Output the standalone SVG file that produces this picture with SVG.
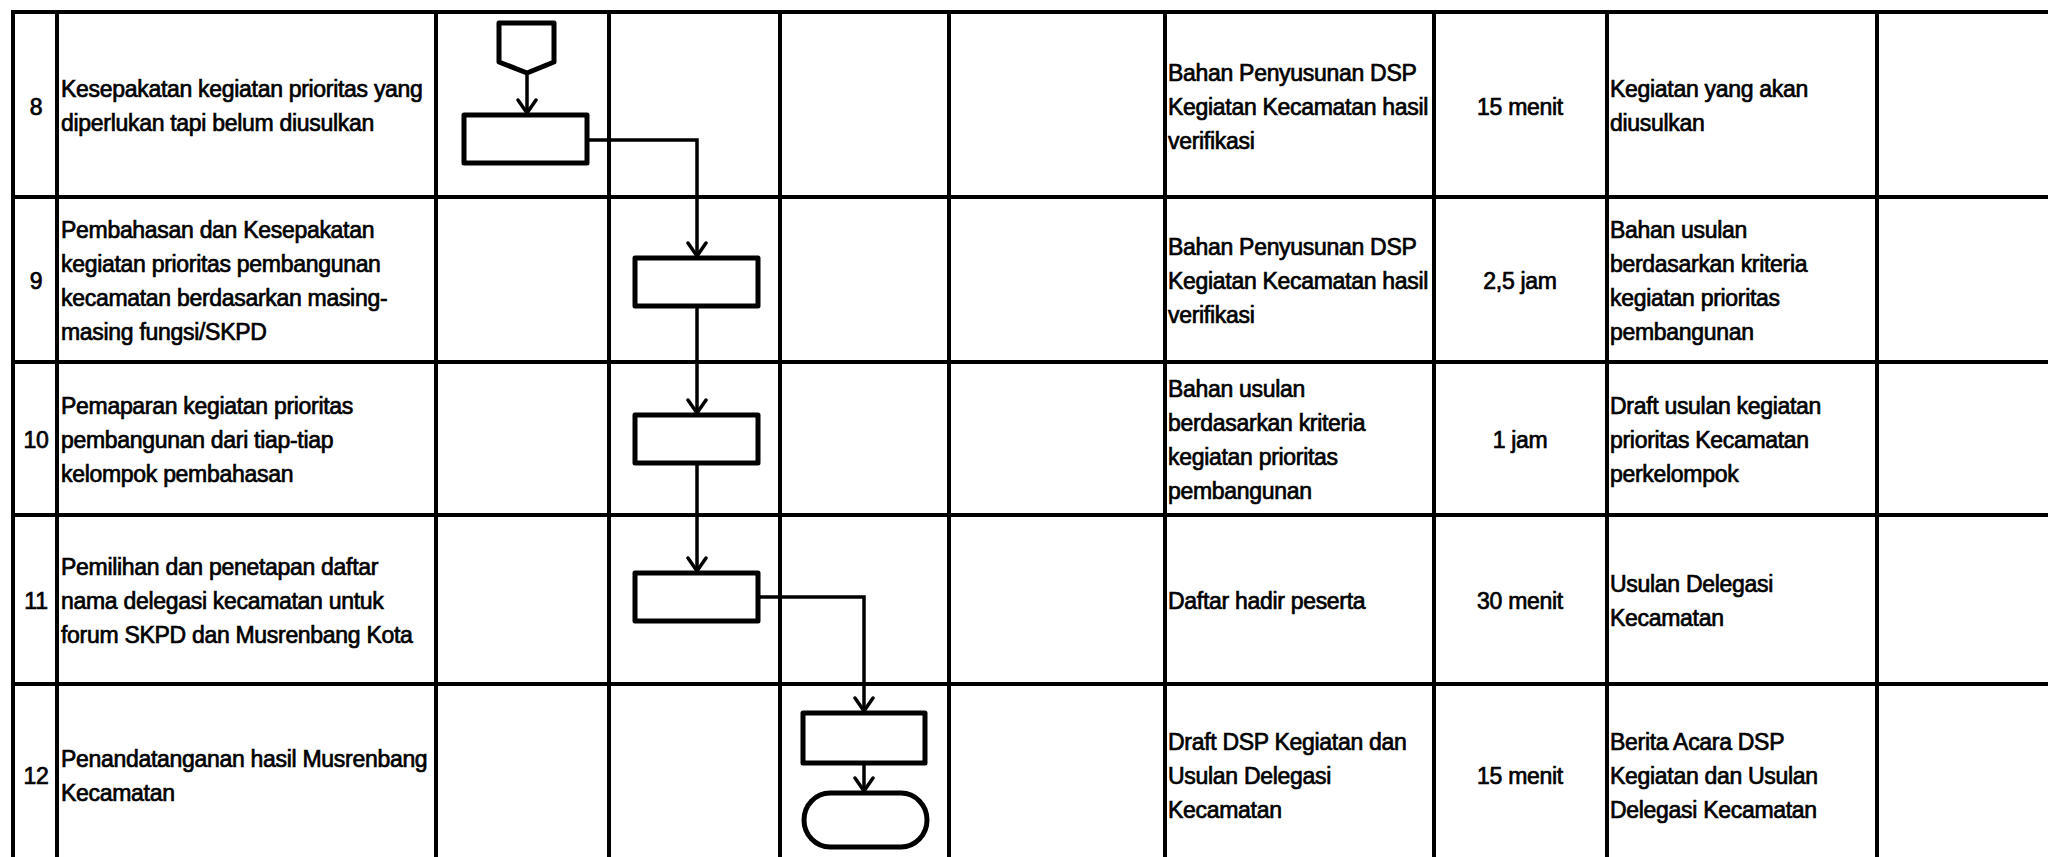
<svg xmlns="http://www.w3.org/2000/svg" width="2048" height="857" viewBox="0 0 2048 857">
<style>
.grid{stroke:#000;stroke-width:4;fill:none}
.shape{stroke:#000;stroke-width:5;fill:#fff;stroke-linejoin:round}
.conn{stroke:#000;stroke-width:3.5;fill:none}
text{font-family:"Liberation Sans",Arial,sans-serif;font-size:23px;letter-spacing:-0.3px;fill:#000;stroke:#000;stroke-width:0.7}
.c{text-anchor:middle}
</style>
<defs>
<marker id="arr" markerUnits="userSpaceOnUse" viewBox="0 0 18 22" markerWidth="18" markerHeight="22" refX="15" refY="11" orient="auto">
<path d="M2,2 L15,11 L2,20" fill="none" stroke="#000" stroke-width="3.5" stroke-linecap="round" stroke-linejoin="round"/>
</marker>
</defs>
<rect width="2048" height="857" fill="#fff"/>
<g id="table" class="grid">
<line x1="11" y1="12" x2="2048" y2="12"/>
<line x1="11" y1="197" x2="2048" y2="197"/>
<line x1="11" y1="362" x2="2048" y2="362"/>
<line x1="11" y1="515" x2="2048" y2="515"/>
<line x1="11" y1="684" x2="2048" y2="684"/>
<line x1="13" y1="10" x2="13" y2="857"/>
<line x1="57" y1="12" x2="57" y2="857"/>
<line x1="436" y1="12" x2="436" y2="857"/>
<line x1="609" y1="12" x2="609" y2="857"/>
<line x1="780" y1="12" x2="780" y2="857"/>
<line x1="949" y1="12" x2="949" y2="857"/>
<line x1="1165" y1="12" x2="1165" y2="857"/>
<line x1="1434" y1="12" x2="1434" y2="857"/>
<line x1="1607" y1="12" x2="1607" y2="857"/>
<line x1="1877" y1="12" x2="1877" y2="857"/>
</g>
<g id="row8-text">
<text class="c" x="36" y="115">8</text>
<text x="61" y="97">Kesepakatan kegiatan prioritas yang</text>
<text x="61" y="131">diperlukan tapi belum diusulkan</text>
<text x="1168" y="81">Bahan Penyusunan DSP</text>
<text x="1168" y="115">Kegiatan Kecamatan hasil</text>
<text x="1168" y="149">verifikasi</text>
<text class="c" x="1520" y="115">15 menit</text>
<text x="1610" y="97">Kegiatan yang akan</text>
<text x="1610" y="131">diusulkan</text>
</g>
<g id="row9-text">
<text class="c" x="36" y="289">9</text>
<text x="61" y="238">Pembahasan dan Kesepakatan</text>
<text x="61" y="272">kegiatan prioritas pembangunan</text>
<text x="61" y="306">kecamatan berdasarkan masing-</text>
<text x="61" y="340">masing fungsi/SKPD</text>
<text x="1168" y="255">Bahan Penyusunan DSP</text>
<text x="1168" y="289">Kegiatan Kecamatan hasil</text>
<text x="1168" y="323">verifikasi</text>
<text class="c" x="1520" y="289">2,5 jam</text>
<text x="1610" y="238">Bahan usulan</text>
<text x="1610" y="272">berdasarkan kriteria</text>
<text x="1610" y="306">kegiatan prioritas</text>
<text x="1610" y="340">pembangunan</text>
</g>
<g id="row10-text">
<text class="c" x="36" y="448">10</text>
<text x="61" y="414">Pemaparan kegiatan prioritas</text>
<text x="61" y="448">pembangunan dari tiap-tiap</text>
<text x="61" y="482">kelompok pembahasan</text>
<text x="1168" y="397">Bahan usulan</text>
<text x="1168" y="431">berdasarkan kriteria</text>
<text x="1168" y="465">kegiatan prioritas</text>
<text x="1168" y="499">pembangunan</text>
<text class="c" x="1520" y="448">1 jam</text>
<text x="1610" y="414">Draft usulan kegiatan</text>
<text x="1610" y="448">prioritas Kecamatan</text>
<text x="1610" y="482">perkelompok</text>
</g>
<g id="row11-text">
<text class="c" x="36" y="609">11</text>
<text x="61" y="575">Pemilihan dan penetapan daftar</text>
<text x="61" y="609">nama delegasi kecamatan untuk</text>
<text x="61" y="643">forum SKPD dan Musrenbang Kota</text>
<text x="1168" y="609">Daftar hadir peserta</text>
<text class="c" x="1520" y="609">30 menit</text>
<text x="1610" y="592">Usulan Delegasi</text>
<text x="1610" y="626">Kecamatan</text>
</g>
<g id="row12-text">
<text class="c" x="36" y="784">12</text>
<text x="61" y="767">Penandatanganan hasil Musrenbang</text>
<text x="61" y="801">Kecamatan</text>
<text x="1168" y="750">Draft DSP Kegiatan dan</text>
<text x="1168" y="784">Usulan Delegasi</text>
<text x="1168" y="818">Kecamatan</text>
<text class="c" x="1520" y="784">15 menit</text>
<text x="1610" y="750">Berita Acara DSP</text>
<text x="1610" y="784">Kegiatan dan Usulan</text>
<text x="1610" y="818">Delegasi Kecamatan</text>
</g>
<g id="connectors">
<line class="conn" x1="527" y1="73" x2="527" y2="113" marker-end="url(#arr)"/>
<polyline class="conn" points="588,140 697,140 697,256" marker-end="url(#arr)"/>
<line class="conn" x1="697" y1="306" x2="697" y2="413" marker-end="url(#arr)"/>
<line class="conn" x1="697" y1="463" x2="697" y2="571" marker-end="url(#arr)"/>
<polyline class="conn" points="759,597 864,597 864,711" marker-end="url(#arr)"/>
<line class="conn" x1="864" y1="763" x2="864" y2="791" marker-end="url(#arr)"/>
</g>
<g id="node-start">
<polygon class="shape" points="499,23 554,23 554,62 527,73 499,62"/>
</g>
<g id="node-8">
<rect class="shape" x="464" y="115" width="123" height="48"/>
</g>
<g id="node-9">
<rect class="shape" x="635" y="258" width="123" height="48"/>
</g>
<g id="node-10">
<rect class="shape" x="635" y="415" width="123" height="48"/>
</g>
<g id="node-11">
<rect class="shape" x="635" y="573" width="123" height="48"/>
</g>
<g id="node-12">
<rect class="shape" x="803" y="713" width="122" height="50"/>
</g>
<g id="node-end">
<rect class="shape" x="804" y="793" width="123" height="54" rx="26" ry="27"/>
</g>
</svg>
